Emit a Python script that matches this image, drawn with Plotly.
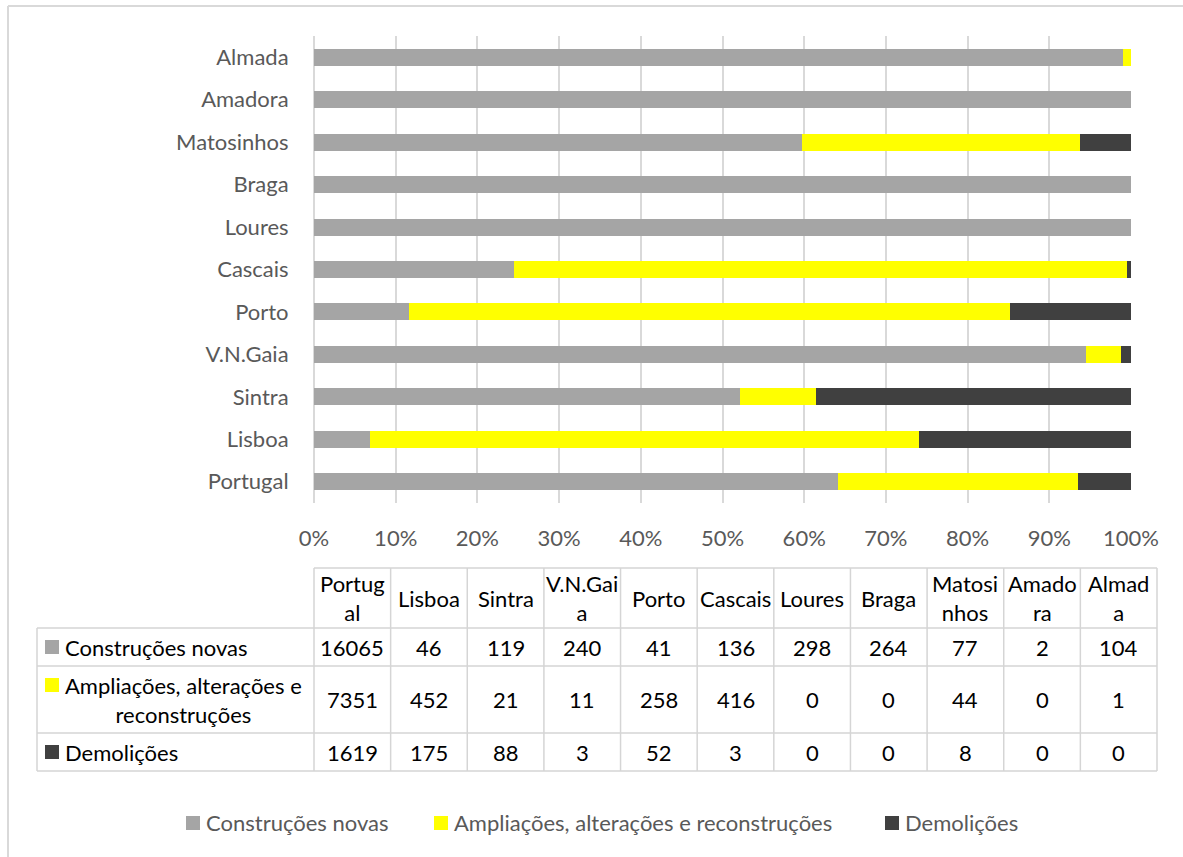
import plotly.graph_objects as go

# ---------------- data ----------------
categories = ["Portugal", "Lisboa", "Sintra", "V.N.Gaia", "Porto", "Cascais",
              "Loures", "Braga", "Matosinhos", "Amadora", "Almada"]
header_labels = ["Portug<br>al", "Lisboa", "Sintra", "V.N.Gai<br>a", "Porto", "Cascais",
                 "Loures", "Braga", "Matosi<br>nhos", "Amado<br>ra", "Almad<br>a"]
series_names = ["Construções novas", "Ampliações, alterações e reconstruções", "Demolições"]
table_row_labels = ["Construções novas", "Ampliações, alterações e<br>reconstruções", "Demolições"]
construcoes = [16065, 46, 119, 240, 41, 136, 298, 264, 77, 2, 104]
ampliacoes = [7351, 452, 21, 11, 258, 416, 0, 0, 44, 0, 1]
demolicoes = [1619, 175, 88, 3, 52, 3, 0, 0, 8, 0, 0]
series_values = [construcoes, ampliacoes, demolicoes]
colors = ["#A5A5A5", "#FFFF00", "#404040"]
x_ticks = list(range(0, 101, 10))
x_tick_text = [f"{t}%" for t in x_ticks]

# ---------------- layout constants (pixels) ----------------
W, H = 1183, 857
L, R, T, B = 314, 1131, 36, 503
FONT = "Lato, Calibri, Carlito, sans-serif"
FS = 22
GRID = "#D9D9D9"
LINE = "#D5D5D5"
TXT_GRAY = "#595959"


def px(x):
    return (x - L) / (R - L)


def py(y):
    return (B - y) / (B - T)


fig = go.Figure()
for name, vals, col in zip(series_names, series_values, colors):
    fig.add_trace(go.Bar(
        y=categories, x=vals, name=name, orientation="h",
        marker=dict(color=col, line=dict(width=0)),
        hovertemplate="%{y}: %{x:.1f}%<extra>" + name + "</extra>",
    ))

shapes = []
annotations = []

# outer border (top + left)
shapes.append(dict(type="line", xref="paper", yref="paper",
                   x0=px(8), x1=px(1200), y0=py(6), y1=py(6),
                   line=dict(color=GRID, width=2)))
shapes.append(dict(type="line", xref="paper", yref="paper",
                   x0=px(8), x1=px(8), y0=py(6), y1=py(870),
                   line=dict(color=GRID, width=2)))

# ---------------- data table ----------------
tx0, tc0, tx1 = 37, 314, 1157
row_edges = [568, 628, 666, 733, 771]
ncol = len(categories)
cw = (tx1 - tc0) / ncol
col_edges = [tc0 + i * cw for i in range(ncol + 1)]

# horizontal lines
shapes.append(dict(type="line", xref="paper", yref="paper",
                   x0=px(tc0), x1=px(tx1), y0=py(row_edges[0]), y1=py(row_edges[0]),
                   line=dict(color=LINE, width=1.5)))
for ye in row_edges[1:]:
    shapes.append(dict(type="line", xref="paper", yref="paper",
                       x0=px(tx0), x1=px(tx1), y0=py(ye), y1=py(ye),
                       line=dict(color=LINE, width=1.5)))
# vertical lines
shapes.append(dict(type="line", xref="paper", yref="paper",
                   x0=px(tx0), x1=px(tx0), y0=py(row_edges[1]), y1=py(row_edges[-1]),
                   line=dict(color=LINE, width=1.5)))
for xe in col_edges:
    shapes.append(dict(type="line", xref="paper", yref="paper",
                       x0=px(xe), x1=px(xe), y0=py(row_edges[0]), y1=py(row_edges[-1]),
                       line=dict(color=LINE, width=1.5)))

# header texts
hy = (row_edges[0] + row_edges[1]) / 2
for i, lab in enumerate(header_labels):
    cx = (col_edges[i] + col_edges[i + 1]) / 2
    annotations.append(dict(xref="paper", yref="paper", x=px(cx), y=py(hy),
                            text=lab, showarrow=False, xanchor="center", yanchor="middle",
                            align="center", font=dict(family=FONT, size=FS, color="#000000")))

# body rows
for r, (lab, vals, col) in enumerate(zip(table_row_labels, series_values, colors)):
    y0, y1 = row_edges[r + 1], row_edges[r + 2]
    cy = (y0 + y1) / 2
    first_line_y = cy if "<br>" not in lab else y0 + 19
    # colour square
    shapes.append(dict(type="rect", xref="paper", yref="paper",
                       x0=px(45), x1=px(59), y0=py(first_line_y - 7), y1=py(first_line_y + 7),
                       fillcolor=col, line=dict(width=0)))
    annotations.append(dict(xref="paper", yref="paper", x=px(63), y=py(cy),
                            text=lab, showarrow=False, xanchor="left", yanchor="middle",
                            align="center", font=dict(family=FONT, size=FS, color="#000000")))
    for i, v in enumerate(vals):
        cx = (col_edges[i] + col_edges[i + 1]) / 2
        annotations.append(dict(xref="paper", yref="paper", x=px(cx), y=py(cy),
                                text=str(v), showarrow=False, xanchor="center", yanchor="middle",
                                font=dict(family=FONT, size=FS, color="#000000")))

# ---------------- bottom legend ----------------
legend_y = 823
legend_sq_x = [186, 434, 885]
for name, col, sx in zip(series_names, colors, legend_sq_x):
    shapes.append(dict(type="rect", xref="paper", yref="paper",
                       x0=px(sx), x1=px(sx + 14), y0=py(legend_y - 7), y1=py(legend_y + 7),
                       fillcolor=col, line=dict(width=0)))
    annotations.append(dict(xref="paper", yref="paper", x=px(sx + 18), y=py(legend_y),
                            text=name, showarrow=False, xanchor="left", yanchor="middle",
                            font=dict(family=FONT, size=FS, color=TXT_GRAY)))

fig.update_layout(
    width=W, height=H,
    margin=dict(l=L, r=W - R, t=T, b=H - B, pad=0),
    barmode="stack", barnorm="percent", bargap=0.6,
    plot_bgcolor="white", paper_bgcolor="white",
    showlegend=False,
    font=dict(family=FONT, size=FS, color=TXT_GRAY),
    shapes=shapes, annotations=annotations,
)
fig.update_xaxes(range=[0, 100], tickvals=x_ticks, ticktext=x_tick_text,
                 showgrid=True, gridcolor=GRID, gridwidth=1.5,
                 zeroline=True, zerolinecolor=GRID, zerolinewidth=1.5,
                 showline=False, ticks="outside", ticklen=16, tickcolor="rgba(0,0,0,0)",
                 tickfont=dict(family=FONT, size=FS, color=TXT_GRAY), fixedrange=True)
fig.update_yaxes(categoryorder="array", categoryarray=categories,
                 showgrid=False, zeroline=False, showline=False,
                 ticks="outside", ticklen=20, tickcolor="rgba(0,0,0,0)",
                 tickfont=dict(family=FONT, size=FS, color=TXT_GRAY), fixedrange=True)

fig.write_html("out.html", config={"displayModeBar": False},
               post_script="document.body.style.margin='0';document.body.style.overflow='hidden';")
